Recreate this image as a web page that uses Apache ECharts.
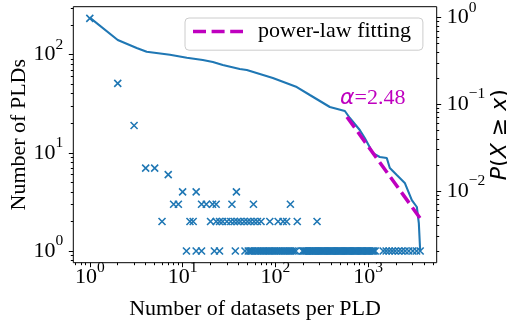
<!DOCTYPE html>
<html><head><meta charset="utf-8">
<script src="https://cdn.jsdelivr.net/npm/echarts@6/dist/echarts.min.js"></script>
<style>html,body{margin:0;padding:0;background:#fff}#c{width:507px;height:324px}</style>
</head><body><div id="c"></div>
<script>
// ---- data ----
const headX = [1, 2, 3, 4, 5, 7];
const headCounts = [234, 51, 19, 7, 7, 6];
const fourX = [10, 14, 38];
const threeX = [8, 9, 16, 18, 21, 23, 34, 58, 145];
const twoX = [6, 12, 13, 20, 23, 25, 27, 30, 33, 36, 39, 42, 46, 50, 54, 59, 64, 70, 87, 107, 121, 132, 172, 281];
const oneX = [11, 14, 16, 22, 25, 37, 47,
  51, 53, 55, 57, 60, 62, 65, 68, 71, 74, 77, 80, 84, 87, 91, 95, 99, 103, 108, 113, 118, 123, 128, 134, 140, 146, 152, 159, 166,
  196, 201, 207, 213, 218, 224, 231, 237, 244, 251, 257, 265, 272, 280, 288, 296, 304, 313, 322, 331, 340, 350, 360, 370, 381, 392,
  403, 414, 426, 438, 451, 464, 477, 491, 505, 519, 534, 549, 565, 581, 598, 615, 633, 651, 670, 690, 710, 730, 752, 774, 796, 820,
  845, 870, 896, 923, 951, 980, 1010, 1045, 1080, 1115, 1150, 1190,
  1450, 1560, 1680, 1810, 1950, 2120, 2300, 2500, 2740, 3020, 3320, 3630];
const ccdfX = [1, 2, 3.2, 4.1, 7.3, 11.1, 16.5, 21.2, 27.1, 41.3, 49.2, 93.8, 170, 235, 386, 560, 634, 811, 918, 1122, 1334, 1585, 1709, 2032, 2478, 2951, 3342, 3510, 3630];
const ccdfP = [1, 0.552, 0.447, 0.404, 0.373, 0.345, 0.324, 0.308, 0.284, 0.255, 0.249, 0.201, 0.158, 0.128, 0.0931, 0.0837, 0.0695, 0.0505, 0.0409, 0.0274, 0.0247, 0.0240, 0.0184, 0.0153, 0.0124, 0.00787, 0.00654, 0.00427, 0.00205];
const fitX = [590, 3630];
const fitP = [0.0714, 0.00485];
const fitLabel = 'power-law fitting';
const alphaText = '2.48';
const xMajor = [1, 10, 100, 1000];
const xMinor = [0.7, 0.8, 0.9, 2, 3, 4, 5, 6, 7, 8, 9, 20, 30, 40, 50, 60, 70, 80, 90, 200, 300, 400, 500, 600, 700, 800, 900, 2000, 3000, 4000, 5000];
const yLMajor = [1, 10, 100];
const yLMinor = [0.8, 0.9, 2, 3, 4, 5, 6, 7, 8, 9, 20, 30, 40, 50, 60, 70, 80, 90, 200, 300];
const yRMajor = [0.01, 0.1, 1];
const yRMinor = [0.002, 0.003, 0.004, 0.005, 0.006, 0.007, 0.008, 0.009, 0.02, 0.03, 0.04, 0.05, 0.06, 0.07, 0.08, 0.09, 0.2, 0.3, 0.4, 0.5, 0.6, 0.7, 0.8, 0.9];
const xRange = [0.664, 5470];
const yLRange = [0.761, 308];
const yRRange = [0.00149, 1.336];

// ---- build ----
const pts = [];
headX.forEach((x, i) => pts.push([x, headCounts[i]]));
fourX.forEach(x => pts.push([x, 4]));
threeX.forEach(x => pts.push([x, 3]));
twoX.forEach(x => pts.push([x, 2]));
oneX.forEach(x => pts.push([x, 1]));
const ccdf = ccdfX.map((x, i) => [x, ccdfP[i]]);
const fit = fitX.map((x, i) => [x, fitP[i]]);

const SERIF = 'Liberation Serif';
function powLabel(v) {
  const e = Math.round(Math.log10(v));
  return '{b|10}{s|' + (e < 0 ? '\u2212' + (-e) : e) + '}';
}
const rich = {
  b: {fontFamily: SERIF, fontSize: 22, lineHeight: 22, verticalAlign: 'bottom', color: '#000'},
  s: {fontFamily: SERIF, fontSize: 15.5, lineHeight: 15.5, verticalAlign: 'bottom', padding: [0, 0, 13, 0], color: '#000'}
};
const tickLine = {color: '#000', width: 1};
function axisBase(type, range, extra) {
  return Object.assign({
    type: 'log', logBase: 10, min: range[0], max: range[1],
    axisLine: {show: false, onZero: false}, splitLine: {show: false}, minorTick: {show: false},
    nameMoveOverlap: false
  }, extra);
}

const chart = echarts.init(document.getElementById('c'), null, {renderer: 'canvas'});
chart.setOption({
  animation: false,
  grid: {left: 73.3, right: 70.3, top: 6.7, bottom: 61.3, show: true, borderColor: '#000', borderWidth: 1, backgroundColor: 'transparent', containLabel: false, outerBoundsMode: 'none'},
  legend: {
    data: [{name: fitLabel, icon: 'path://M0,0h13v3.5h-13zM18.6,0h13v3.5h-13zM37.2,0h12.8v3.5h-12.8z'}],
    left: 185, top: 18, padding: [2.6, 12, 7.6, 8], itemWidth: 50, itemHeight: 3.5,
    borderColor: '#cccccc', borderWidth: 1, borderRadius: 4, backgroundColor: 'rgba(255,255,255,0.8)',
    selectedMode: false,
    textStyle: {fontFamily: SERIF, fontSize: 22, color: '#000', padding: [6.8, 0, 0, 10]}
  },
  xAxis: [
    axisBase('log', xRange, {position: 'bottom', gridIndex: 0,
      name: 'Number of datasets per PLD', nameLocation: 'middle', nameGap: 36,
      nameTextStyle: {fontFamily: SERIF, fontSize: 22, color: '#000'},
      axisTick: {show: true, length: 4.5, lineStyle: tickLine, customValues: xMajor},
      axisLabel: {show: true, margin: 4, customValues: xMajor, formatter: powLabel, rich: rich}}),
    axisBase('log', xRange, {position: 'bottom', gridIndex: 0,
      axisTick: {show: true, length: 2.5, lineStyle: tickLine, customValues: xMinor},
      axisLabel: {show: false}})
  ],
  yAxis: [
    axisBase('log', yLRange, {position: 'left',
      name: 'Number of PLDs', nameLocation: 'middle', nameGap: 43, nameRotate: 90,
      nameTextStyle: {fontFamily: SERIF, fontSize: 22, color: '#000'},
      axisTick: {show: true, length: 4.5, lineStyle: tickLine, customValues: yLMajor},
      axisLabel: {show: true, margin: 10, customValues: yLMajor, formatter: powLabel, rich: rich}}),
    axisBase('log', yLRange, {position: 'left',
      axisTick: {show: true, length: 2.5, lineStyle: tickLine, customValues: yLMinor},
      axisLabel: {show: false}}),
    axisBase('log', yRRange, {position: 'right',
      name: '{i|P}{r|(}{i|X}{r| \u2265 }{i|x}{r|)}', nameLocation: 'middle', nameGap: 53, nameRotate: 90,
      nameTextStyle: {fontFamily: 'DejaVu Sans', fontSize: 22, color: '#000',
        rich: {i: {fontFamily: 'DejaVu Sans', fontStyle: 'italic', fontSize: 22, color: '#000'},
               r: {fontFamily: 'DejaVu Sans', fontSize: 22, color: '#000'}}},
      axisTick: {show: true, length: 4.5, lineStyle: tickLine, customValues: yRMajor},
      axisLabel: {show: true, margin: 10, customValues: yRMajor, formatter: powLabel, rich: rich}}),
    axisBase('log', yRRange, {position: 'right',
      axisTick: {show: true, length: 2.5, lineStyle: tickLine, customValues: yRMinor},
      axisLabel: {show: false}})
  ],
  series: [
    {type: 'scatter', name: 'count', xAxisIndex: 0, yAxisIndex: 0, data: pts, silent: true,
     symbol: 'path://M0,0L10,10M10,0L0,10', symbolSize: 7,
     itemStyle: {color: 'rgba(0,0,0,0)', borderColor: '#1f77b4', borderWidth: 1.6, opacity: 1},
     emphasis: {disabled: true}, z: 2},
    {type: 'line', name: 'ccdf', xAxisIndex: 0, yAxisIndex: 2, data: ccdf, showSymbol: false, symbol: 'none', silent: true,
     lineStyle: {color: '#1f77b4', width: 2.1}, emphasis: {disabled: true}, z: 3},
    {type: 'line', name: fitLabel, xAxisIndex: 0, yAxisIndex: 2, data: fit, showSymbol: false, symbol: 'none', silent: true,
     color: '#bf00bf', itemStyle: {color: '#bf00bf'},
     lineStyle: {color: '#bf00bf', width: 3.5, type: [13, 5.6], cap: 'butt'}, emphasis: {disabled: true}, z: 4}
  ],
  graphic: [{
    type: 'text', left: 340, top: 87, silent: true,
    style: {text: '{a|\u03b1}{b|=' + alphaText + '}',
      rich: {a: {fontFamily: 'DejaVu Sans', fontStyle: 'italic', fontSize: 22, fill: '#bf00bf', color: '#bf00bf'},
             b: {fontFamily: SERIF, fontSize: 22, fill: '#bf00bf', color: '#bf00bf'}}}
  }]
});
</script></body></html>
